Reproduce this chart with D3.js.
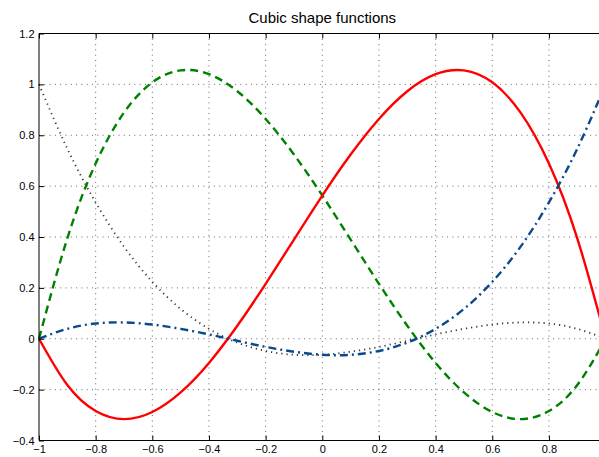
<!DOCTYPE html>
<html>
<head>
<meta charset="utf-8">
<script src="https://cdn.jsdelivr.net/npm/d3@7"></script>
<style>
    body { margin: 0; background: #fff; }
    svg { display: block; font-family: "Liberation Sans", Arial, sans-serif; }
    .gridline { stroke: #666; stroke-width: 1; stroke-dasharray: 1,4.3; }
</style>
</head>
<body>
<div id="chart"></div>
<script>
const title = "Cubic shape functions";
const xValues = [-1, -0.9, -0.8, -0.7, -0.6, -0.5, -0.4, -0.3, -0.2, -0.1, 0, 0.1, 0.2, 0.3, 0.4, 0.5, 0.6, 0.7, 0.8, 0.9, 1];
const dottedValues = [1.0, 0.747, 0.536, 0.362, 0.224, 0.117, 0.039, -0.015, -0.048, -0.063, -0.063, -0.051, -0.032, -0.008, 0.017, 0.039, 0.056, 0.064, 0.060, 0.039, 0];
const dashedValues = [0, 0.395, 0.689, 0.889, 1.008, 1.055, 1.040, 0.973, 0.864, 0.724, 0.563, 0.390, 0.216, 0.051, -0.095, -0.211, -0.288, -0.316, -0.284, -0.182, 0];
const solidValues = [0, -0.182, -0.284, -0.316, -0.288, -0.211, -0.095, 0.051, 0.216, 0.390, 0.563, 0.724, 0.864, 0.973, 1.040, 1.055, 1.008, 0.889, 0.689, 0.395, 0];
const dashDotValues = [0, 0.039, 0.060, 0.064, 0.056, 0.039, 0.017, -0.008, -0.032, -0.051, -0.063, -0.063, -0.048, -0.015, 0.039, 0.117, 0.224, 0.362, 0.536, 0.747, 1.0];
const xTicks = [-1, -0.8, -0.6, -0.4, -0.2, 0, 0.2, 0.4, 0.6, 0.8, 1];
const yTicks = [-0.4, -0.2, 0, 0.2, 0.4, 0.6, 0.8, 1, 1.2];

const W = 599, H = 457;
const margin = { left: 39, right: 605.6, top: 33.5, bottom: 440.5 };

const svg = d3.select("#chart")
    .append("svg")
    .attr("width", W)
    .attr("height", H);

const x = d3.scaleLinear().domain([-1, 1]).range([margin.left, margin.right]);
const y = d3.scaleLinear().domain([-0.4, 1.2]).range([margin.bottom, margin.top]);

// the right edge of the axes falls just outside the window
const visibleX = xTicks.filter(d => x(d) < W);

// grid
svg.append("g").selectAll("line")
    .data(visibleX.slice(1))
    .join("line")
    .attr("class", "gridline")
    .attr("x1", d => x(d)).attr("x2", d => x(d))
    .attr("y1", margin.top).attr("y2", margin.bottom);

svg.append("g").selectAll("line")
    .data(yTicks.slice(1, -1))
    .join("line")
    .attr("class", "gridline")
    .attr("x1", margin.left).attr("x2", margin.right)
    .attr("y1", d => y(d)).attr("y2", d => y(d));

// curves
const line = values => d3.line()
    .x((d, i) => x(xValues[i]))
    .y(d => y(d))
    .curve(d3.curveNatural)(values);

const series = [
    { values: dottedValues, color: "#333", width: 1.8, dash: "1.2,4" },
    { values: dashedValues, color: "#008000", width: 2.4, dash: "8,5" },
    { values: solidValues, color: "#ff0000", width: 2.4, dash: null },
    { values: dashDotValues, color: "#0b4a8a", width: 2.4, dash: "8,4,2,4" }
];

series.forEach(s => {
    svg.append("path")
        .attr("d", line(s.values))
        .attr("fill", "none")
        .attr("stroke", s.color)
        .attr("stroke-width", s.width)
        .attr("stroke-dasharray", s.dash);
});

// axes (ticks pointing inward)
const fmt = d => d3.format("")(+d.toFixed(1));

svg.append("g")
    .attr("transform", "translate(0," + margin.bottom + ")")
    .call(d3.axisBottom(x).tickValues(visibleX).tickSize(-5).tickPadding(5).tickFormat(fmt))
    .call(g => g.select(".domain").attr("d", "M" + margin.left + ",0H" + margin.right));

svg.append("g")
    .attr("transform", "translate(0," + margin.top + ")")
    .call(d3.axisTop(x).tickValues(visibleX).tickSize(-5).tickFormat(""))
    .call(g => g.select(".domain").attr("d", "M" + margin.left + ",0H" + margin.right));

svg.append("g")
    .attr("transform", "translate(" + margin.left + ",0)")
    .call(d3.axisLeft(y).tickValues(yTicks).tickSize(-5).tickPadding(4.5).tickFormat(fmt))
    .call(g => g.select(".domain").attr("d", "M0," + margin.top + "V" + margin.bottom));

svg.selectAll(".tick text")
    .attr("font-size", 11)
    .attr("fill", "#000")
    .attr("font-family", "Liberation Sans, Arial, sans-serif");

// title
svg.append("text")
    .attr("x", (margin.left + margin.right) / 2)
    .attr("y", 23)
    .attr("text-anchor", "middle")
    .attr("font-size", 15)
    .text(title);
</script>
</body>
</html>
